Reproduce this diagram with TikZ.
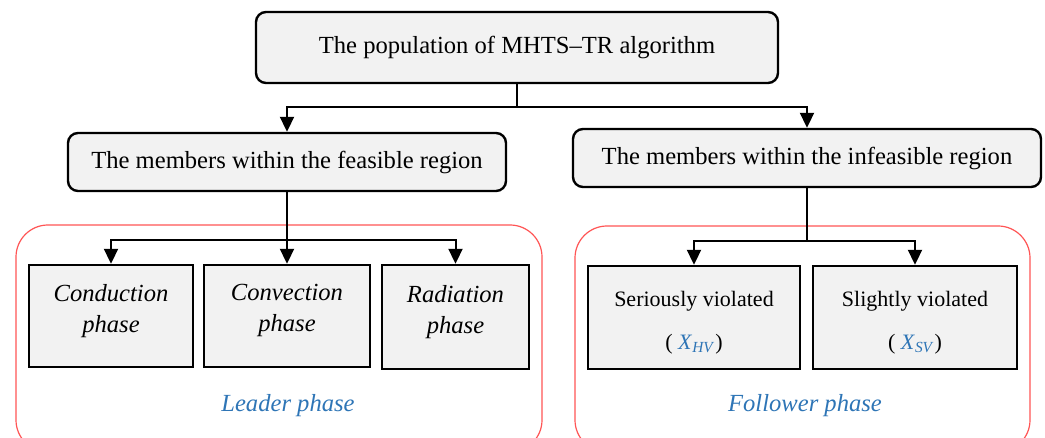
\documentclass[tikz,border=0pt]{standalone}
\usepackage{fontspec}
\setmainfont{Liberation Serif}
\usetikzlibrary{arrows.meta}
\definecolor{boxgray}{RGB}{242,242,242}
\definecolor{regionred}{RGB}{255,85,85}
\definecolor{phaseblue}{RGB}{46,117,182}
\begin{document}
\begin{tikzpicture}[x=0.5pt, y=-0.5pt,
    every node/.style={font=\fontsize{12.3}{15.5}\selectfont},
    groupbox/.style={draw, line width=1.2pt, fill=boxgray, rounded corners=5pt, inner sep=0pt},
    phasebox/.style={draw, line width=1.2pt, fill=boxgray, inner sep=0pt, align=center, font=\fontsize{12.3}{15.5}\selectfont\itshape},
    violbox/.style={draw, line width=1.2pt, fill=boxgray, inner sep=0pt, align=center, font=\fontsize{11}{13}\selectfont},
    phaselabel/.style={text=phaseblue, font=\fontsize{12.3}{15.5}\selectfont\itshape},
    link/.style={line width=1pt, -{Triangle[width=7pt,length=7.5pt]}},
    region/.style={draw=regionred, line width=0.6pt, rounded corners=16pt}]
  \useasboundingbox (0,0) rectangle (1045,438);

  \draw[region] (16,225) rectangle (542,452);
  \draw[region] (575,226) rectangle (1030,452);

  \node[groupbox, minimum width=261pt, minimum height=35.5pt] (top) at (517,47.5) {The population of MHTS--TR algorithm};
  \node[groupbox, minimum width=219pt, minimum height=29pt] (feas) at (287,162) {The members within the feasible region};
  \node[groupbox, minimum width=234pt, minimum height=29pt] (infeas) at (807,158) {The members within the infeasible region};

  \node[phasebox, minimum width=82pt, minimum height=51pt] (cond) at (111,316) {Conduction\\phase\\[-7.5pt]};
  \node[phasebox, minimum width=83pt, minimum height=51pt] (conv) at (287,316) {Convection\\phase\\[-7.5pt]};
  \node[phasebox, minimum width=73.5pt, minimum height=52pt] (rad) at (455.5,317) {Radiation\\phase\\[-7.5pt]};
  \node[violbox, minimum width=106pt, minimum height=51.5pt] (ser) at (694,317.5) {\rule{0pt}{13pt}Seriously violated\\[8.5pt]( \textcolor{phaseblue}{\textit{X}\textsubscript{\textit{HV}}})};
  \node[violbox, minimum width=102pt, minimum height=51.5pt] (sli) at (915,317.5) {\rule{0pt}{13pt}Slightly violated\\[8.5pt]( \textcolor{phaseblue}{\textit{X}\textsubscript{\textit{SV}}})};

  \node[phaselabel] (leader) at (288,406) {Leader phase};
  \node[phaselabel] (follower) at (805,406) {Follower phase};

  \coordinate (split) at (517,107);
  \coordinate (lsplit) at (287,240);
  \coordinate (rsplit) at (807,241);

  \draw[link] (top.south) -- (split) -| (feas.north);
  \draw[link] (split) -| (infeas.north);
  \draw[link] (feas.south) -- (conv.north);
  \draw[link] (lsplit) -| (cond.north);
  \draw[link] (lsplit) -| (rad.north);
  \draw[line width=1pt] (infeas.south) -- (rsplit);
  \draw[link] (rsplit) -| (ser.north);
  \draw[link] (rsplit) -| (sli.north);
\end{tikzpicture}
\end{document}
